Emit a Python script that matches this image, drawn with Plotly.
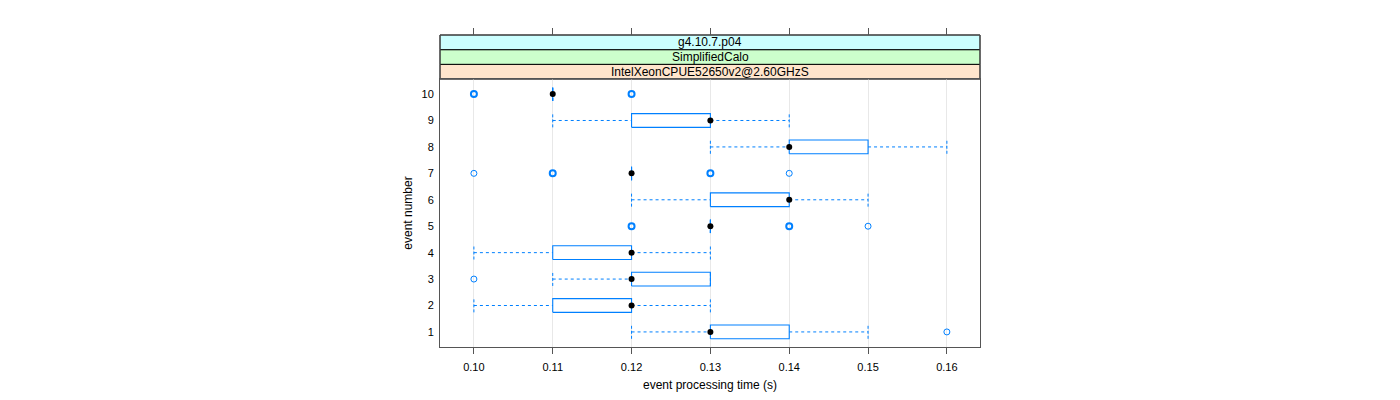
import plotly.graph_objects as go

# ---- data ----
events = [1, 2, 3, 4, 5, 6, 7, 8, 9, 10]
q1 = [0.13, 0.11, 0.12, 0.11, 0.13, 0.13, 0.12, 0.14, 0.12, 0.11]
q3 = [0.14, 0.12, 0.13, 0.12, 0.13, 0.14, 0.12, 0.15, 0.13, 0.11]
medians = [0.13, 0.12, 0.12, 0.12, 0.13, 0.14, 0.12, 0.14, 0.13, 0.11]
whisker_lo = [0.12, 0.10, 0.11, 0.10, 0.13, 0.12, 0.12, 0.13, 0.11, 0.11]
whisker_hi = [0.15, 0.13, 0.13, 0.13, 0.13, 0.15, 0.12, 0.16, 0.14, 0.11]
outliers = {
    1: [0.16],
    3: [0.10],
    5: [0.12, 0.12, 0.14, 0.14, 0.15],
    7: [0.10, 0.11, 0.11, 0.13, 0.13, 0.14],
    10: [0.10, 0.10, 0.12, 0.12],
}
x_ticks = [0.10, 0.11, 0.12, 0.13, 0.14, 0.15, 0.16]
x_ticktext = ["0.10", "0.11", "0.12", "0.13", "0.14", "0.15", "0.16"]
strip_labels = ["IntelXeonCPUE52650v2@2.60GHzS", "SimplifiedCalo", "g4.10.7.p04"]
strip_colors = ["#ffe5cc", "#ccffcc", "#ccffff"]

BLUE = "#0080ff"
HALF = 0.26  # half box height in y units
FONT = "Liberation Sans, Arial, Helvetica, sans-serif"

fig = go.Figure()

# whiskers (dashed)
wx, wy = [], []
cx, cy = [], []
for e, a, b, lo, hi in zip(events, q1, q3, whisker_lo, whisker_hi):
    if lo < a:
        wx += [lo, a, None]; wy += [e, e, None]
    if hi > b:
        wx += [b, hi, None]; wy += [e, e, None]
    cx += [lo, lo, None, hi, hi, None]
    cy += [e - HALF, e + HALF, None, e - HALF, e + HALF, None]
fig.add_trace(go.Scatter(x=wx, y=wy, mode="lines", line=dict(color=BLUE, width=1, dash="3px,3px"),
                         hoverinfo="skip", showlegend=False))
fig.add_trace(go.Scatter(x=cx, y=cy, mode="lines", line=dict(color=BLUE, width=1, dash="3px,2px"),
                         hoverinfo="skip", showlegend=False))

# boxes
bx, by = [], []
for e, a, b in zip(events, q1, q3):
    bx += [a, b, b, a, a, None]
    by += [e - HALF, e - HALF, e + HALF, e + HALF, e - HALF, None]
fig.add_trace(go.Scatter(x=bx, y=by, mode="lines", line=dict(color=BLUE, width=1.1),
                         hoverinfo="skip", showlegend=False))

# outliers
for e, vals in outliers.items():
    uniq = sorted(set(vals))
    for v in uniq:
        n = vals.count(v)
        fig.add_trace(go.Scatter(x=[v], y=[e], mode="markers",
                                 marker=dict(symbol="circle-open", size=6, color=BLUE,
                                             line=dict(width=1 if n == 1 else 2, color=BLUE)),
                                 showlegend=False))

# medians
fig.add_trace(go.Scatter(x=medians, y=events, mode="markers",
                         marker=dict(symbol="circle", size=6, color="black"),
                         showlegend=False))

# invisible trace for top tick axis
fig.add_trace(go.Scatter(x=[x_ticks[0]], y=[events[0]], xaxis="x2", mode="markers",
                         marker=dict(opacity=0), hoverinfo="skip", showlegend=False))

# layout geometry (page body has an 8px margin)
W, H = 1400, 400
ml, mr, mt, mb = 432, 428, 27, 61
panel_top = 0.859
strip_h = (1 - panel_top) / 3

shapes = []
annotations = []
for i, (lab, col) in enumerate(zip(strip_labels, strip_colors)):
    y0 = panel_top + i * strip_h
    y1 = y0 + strip_h
    shapes.append(dict(type="rect", xref="paper", yref="paper", x0=0, x1=1, y0=y0, y1=y1,
                       fillcolor=col, line=dict(color="black", width=1), layer="below"))
    annotations.append(dict(xref="paper", yref="paper", x=0.5, y=(y0 + y1) / 2, text=lab,
                            showarrow=False, font=dict(family=FONT, size=12, color="black"),
                            xanchor="center", yanchor="middle"))
# outer border of strips
shapes.append(dict(type="rect", xref="paper", yref="paper", x0=0, x1=1, y0=panel_top, y1=1,
                   line=dict(color="#555555", width=1), fillcolor="rgba(0,0,0,0)"))

xr = [0.0957, 0.1642]
fig.update_layout(
    width=W, height=H, autosize=False,
    margin=dict(l=ml, r=mr, t=mt, b=mb, autoexpand=False),
    paper_bgcolor="white", plot_bgcolor="white",
    font=dict(family=FONT, size=12, color="black"),
    shapes=shapes, annotations=annotations,
    xaxis=dict(range=xr, tickvals=x_ticks, ticktext=x_ticktext, ticks="outside", ticklen=6,
               tickcolor="#555555", showline=True, linecolor="#555555", linewidth=1, mirror=True,
               showgrid=True, gridcolor="#e8e8e8", gridwidth=1, zeroline=False, automargin=False,
               tickfont=dict(size=11, color="black"), ticklabelstandoff=4,
               title=dict(text="event processing time (s)", standoff=8, font=dict(size=12))),
    xaxis2=dict(range=xr, overlaying="x", anchor="free", position=1, side="top",
                tickvals=x_ticks, ticks="outside", ticklen=7, tickcolor="#555555", automargin=False,
                showticklabels=False, showgrid=False, zeroline=False, showline=False),
    yaxis=dict(domain=[0, panel_top], range=[0.43, 10.57], tickvals=events, automargin=False,
               ticktext=[str(e) for e in events], ticks="", showline=True, linecolor="#555555",
               linewidth=1, mirror=True, showgrid=False, zeroline=False,
               tickfont=dict(size=11, color="black"),
               ticklabelstandoff=3,
               title=dict(text="event number", standoff=6, font=dict(size=12))),
)

fig.write_html("out.html")
